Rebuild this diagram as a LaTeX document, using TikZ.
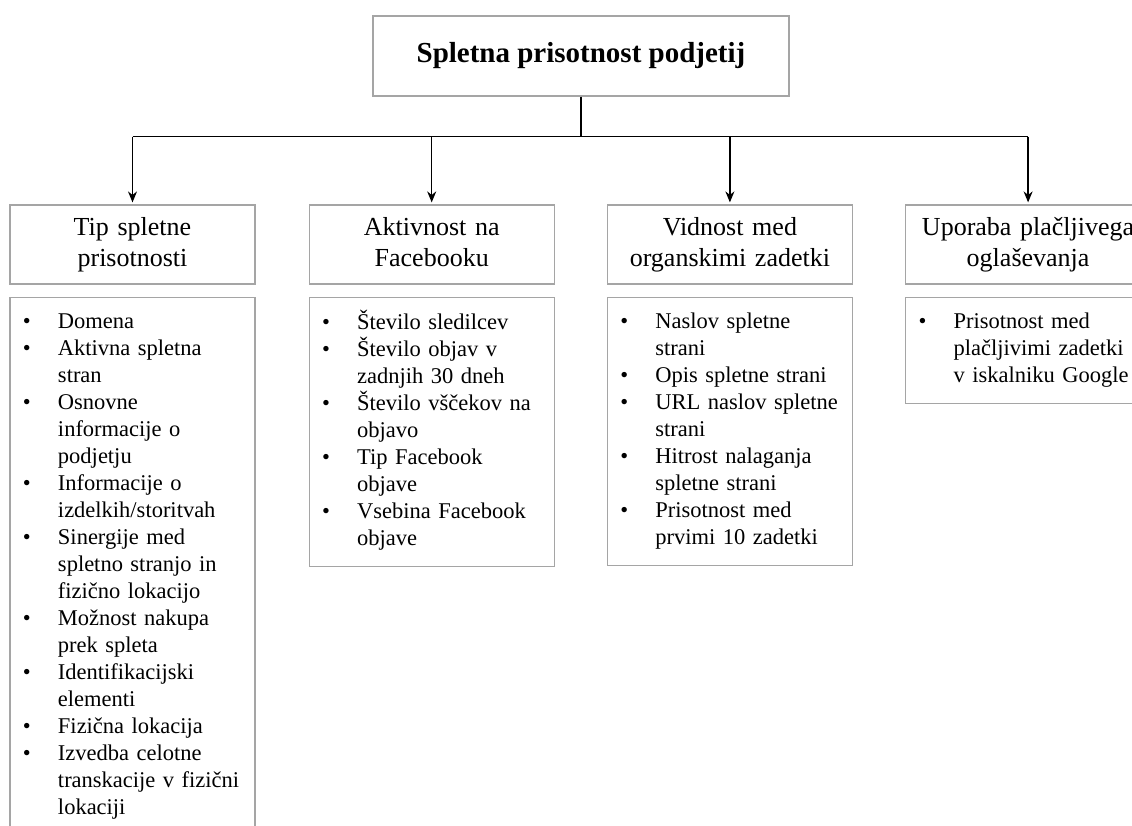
\documentclass[tikz,border=0pt]{standalone}
\usepackage{fontspec}
\setmainfont{Liberation Serif}
\usepackage{xcolor}
\usepackage{tikz}
\usetikzlibrary{shapes,arrows,arrows.meta,positioning,calc}
\definecolor{boxline}{RGB}{165,165,165}
\newcommand{\blt}{\textbullet}

\begin{document}
\begin{tikzpicture}[
    x=1pt, y=-1pt,
    node distance=52pt,
    box/.style={rectangle, draw=boxline, line width=1.2pt, align=center, minimum width=245pt, minimum height=79pt, text width=235pt, inner sep=5pt, font=\fontsize{26}{31}\selectfont, execute at begin node=\strut, execute at end node=\strut},
    titlebox/.style={rectangle, draw=boxline, line width=1.2pt, minimum width=416pt, minimum height=80pt, font=\fontsize{29}{34}\selectfont\bfseries},
    listbox/.style={rectangle, draw=boxline, line width=1.2pt, align=left, text width=219pt, inner xsep=13pt, inner ysep=12.5pt, font=\fontsize{22.5}{27}\selectfont},
    arrow/.style={->, >={Stealth[length=11pt,width=9pt]}, line width=1.3pt}
]
    \clip (0,0) rectangle (1132,826);
    \node[titlebox] (top) at (581,56) {Spletna prisotnost podjetij};

    \node[box] (h1) at (132.5,244.5) {Tip spletne\\prisotnosti};
    \node[box, right=53pt of h1] (h2) {Aktivnost na\\Facebooku};
    \node[box, right=of h2] (h3) {Vidnost med\\organskimi zadetki};
    \node[box, right=of h3] (h4) {Uporaba plačljivega\\oglaševanja};

    \node[listbox, below=12pt of h1] (l1) {\begin{tabular}{@{}p{35pt}@{}l@{}}
        \blt & Domena\\
        \blt & Aktivna spletna\\
             & stran\\
        \blt & Osnovne\\
             & informacije o\\
             & podjetju\\
        \blt & Informacije o\\
             & izdelkih/storitvah\\
        \blt & Sinergije med\\
             & spletno stranjo in\\
             & fizično lokacijo\\
        \blt & Možnost nakupa\\
             & prek spleta\\
        \blt & Identifikacijski\\
             & elementi\\
        \blt & Fizična lokacija\\
        \blt & Izvedba celotne\\
             & transkacije v fizični\\
             & lokaciji
    \end{tabular}};
    \node[listbox, below=12pt of h2] (l2) {\begin{tabular}{@{}p{35pt}@{}l@{}}
        \blt & Število sledilcev\\
        \blt & Število objav v\\
             & zadnjih 30 dneh\\
        \blt & Število vščekov na\\
             & objavo\\
        \blt & Tip Facebook\\
             & objave\\
        \blt & Vsebina Facebook\\
             & objave
    \end{tabular}};
    \node[listbox, below=12pt of h3] (l3) {\begin{tabular}{@{}p{35pt}@{}l@{}}
        \blt & Naslov spletne\\
             & strani\\
        \blt & Opis spletne strani\\
        \blt & URL naslov spletne\\
             & strani\\
        \blt & Hitrost nalaganja\\
             & spletne strani\\
        \blt & Prisotnost med\\
             & prvimi 10 zadetki
    \end{tabular}};
    \node[listbox, below=12pt of h4] (l4) {\begin{tabular}{@{}p{35pt}@{}l@{}}
        \blt & Prisotnost med\\
             & plačljivimi zadetki\\
             & v iskalniku Google
    \end{tabular}};

    % connectors
    \coordinate (bus) at ($(top.south)+(0,40)$);
    \draw[line width=1.3pt] (top.south) -- (bus);
    \draw[line width=1.3pt] (h1.north |- bus) -- (h4.north |- bus);
    \foreach \i in {1,...,4}
        \draw[arrow, shorten >=2pt] (h\i.north |- bus) -- (h\i.north);
\end{tikzpicture}
\end{document}
